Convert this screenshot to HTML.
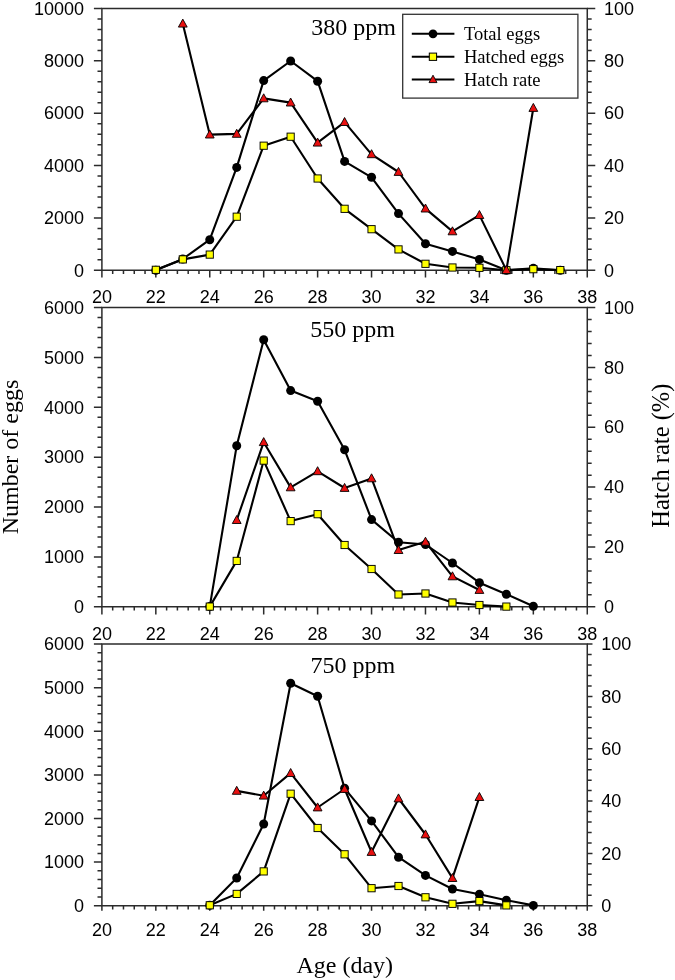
<!DOCTYPE html>
<html><head><meta charset="utf-8"><style>
html,body{margin:0;padding:0;background:#fff;}
svg{display:block;will-change:transform;}
.t{font-family:"Liberation Sans",sans-serif;font-size:18px;fill:#000;}
.s{font-family:"Liberation Serif",serif;font-size:24px;fill:#000;}
.l{font-family:"Liberation Serif",serif;font-size:18.55px;fill:#000;}
.a{font-family:"Liberation Serif",serif;font-size:24px;fill:#000;}
</style></head><body>
<svg width="675" height="980" viewBox="0 0 675 980">
<rect width="675" height="980" fill="#fff"/>
<path d="M101.9 8.5H587.27V270.3H101.9Z" fill="none" stroke="#2b2b2b" stroke-width="1.5"/>
<path d="M93.9 270.3H101.9M97.5 259.83H101.9M97.5 249.36H101.9M97.5 238.88H101.9M97.5 228.41H101.9M93.9 217.94H101.9M97.5 207.47H101.9M97.5 197H101.9M97.5 186.52H101.9M97.5 176.05H101.9M93.9 165.58H101.9M97.5 155.11H101.9M97.5 144.64H101.9M97.5 134.16H101.9M97.5 123.69H101.9M93.9 113.22H101.9M97.5 102.75H101.9M97.5 92.28H101.9M97.5 81.8H101.9M97.5 71.33H101.9M93.9 60.86H101.9M97.5 50.39H101.9M97.5 39.92H101.9M97.5 29.44H101.9M97.5 18.97H101.9M93.9 8.5H101.9" stroke="#2b2b2b" stroke-width="1.5"/>
<path d="M587.27 270.3H595.27M587.27 259.83H591.67M587.27 249.36H591.67M587.27 238.88H591.67M587.27 228.41H591.67M587.27 217.94H595.27M587.27 207.47H591.67M587.27 197H591.67M587.27 186.52H591.67M587.27 176.05H591.67M587.27 165.58H595.27M587.27 155.11H591.67M587.27 144.64H591.67M587.27 134.16H591.67M587.27 123.69H591.67M587.27 113.22H595.27M587.27 102.75H591.67M587.27 92.28H591.67M587.27 81.8H591.67M587.27 71.33H591.67M587.27 60.86H595.27M587.27 50.39H591.67M587.27 39.92H591.67M587.27 29.44H591.67M587.27 18.97H591.67M587.27 8.5H595.27" stroke="#2b2b2b" stroke-width="1.5"/>
<path d="M101.9 270.3V277.5M112.69 270.3V274.1M123.47 270.3V274.1M134.26 270.3V274.1M145.04 270.3V274.1M155.83 270.3V277.5M166.62 270.3V274.1M177.4 270.3V274.1M188.19 270.3V274.1M198.97 270.3V274.1M209.76 270.3V277.5M220.55 270.3V274.1M231.33 270.3V274.1M242.12 270.3V274.1M252.9 270.3V274.1M263.69 270.3V277.5M274.48 270.3V274.1M285.26 270.3V274.1M296.05 270.3V274.1M306.83 270.3V274.1M317.62 270.3V277.5M328.41 270.3V274.1M339.19 270.3V274.1M349.98 270.3V274.1M360.76 270.3V274.1M371.55 270.3V277.5M382.34 270.3V274.1M393.12 270.3V274.1M403.91 270.3V274.1M414.69 270.3V274.1M425.48 270.3V277.5M436.27 270.3V274.1M447.05 270.3V274.1M457.84 270.3V274.1M468.62 270.3V274.1M479.41 270.3V277.5M490.2 270.3V274.1M500.98 270.3V274.1M511.77 270.3V274.1M522.55 270.3V274.1M533.34 270.3V277.5M544.13 270.3V274.1M554.91 270.3V274.1M565.7 270.3V274.1M576.48 270.3V274.1M587.27 270.3V277.5" stroke="#2b2b2b" stroke-width="1.5"/>
<text x="84" y="276.5" text-anchor="end" class="t">0</text>
<text x="84" y="224.14" text-anchor="end" class="t">2000</text>
<text x="84" y="171.78" text-anchor="end" class="t">4000</text>
<text x="84" y="119.42" text-anchor="end" class="t">6000</text>
<text x="84" y="67.06" text-anchor="end" class="t">8000</text>
<text x="84" y="14.7" text-anchor="end" class="t">10000</text>
<text x="604" y="276.5" class="t">0</text>
<text x="604" y="224.14" class="t">20</text>
<text x="604" y="171.78" class="t">40</text>
<text x="604" y="119.42" class="t">60</text>
<text x="604" y="67.06" class="t">80</text>
<text x="604" y="14.7" class="t">100</text>
<text x="101.9" y="303.3" text-anchor="middle" class="t">20</text>
<text x="155.83" y="303.3" text-anchor="middle" class="t">22</text>
<text x="209.76" y="303.3" text-anchor="middle" class="t">24</text>
<text x="263.69" y="303.3" text-anchor="middle" class="t">26</text>
<text x="317.62" y="303.3" text-anchor="middle" class="t">28</text>
<text x="371.55" y="303.3" text-anchor="middle" class="t">30</text>
<text x="425.48" y="303.3" text-anchor="middle" class="t">32</text>
<text x="479.41" y="303.3" text-anchor="middle" class="t">34</text>
<text x="533.34" y="303.3" text-anchor="middle" class="t">36</text>
<text x="587.27" y="303.3" text-anchor="middle" class="t">38</text>
<text x="311.3" y="34.5" class="s">380 ppm</text>
<polyline points="155.83,270.3 182.8,259 209.76,239.7 236.72,167.4 263.69,80.6 290.65,61 317.62,81.2 344.59,161.4 371.55,177.3 398.51,213.6 425.48,243.7 452.45,251.4 479.41,259.5 506.38,270.2 533.34,268.3 560.3,270.3" fill="none" stroke="#000" stroke-width="2.1" stroke-linejoin="round"/>
<circle cx="155.83" cy="270.3" r="4.5" fill="#000"/>
<circle cx="182.8" cy="259" r="4.5" fill="#000"/>
<circle cx="209.76" cy="239.7" r="4.5" fill="#000"/>
<circle cx="236.72" cy="167.4" r="4.5" fill="#000"/>
<circle cx="263.69" cy="80.6" r="4.5" fill="#000"/>
<circle cx="290.65" cy="61" r="4.5" fill="#000"/>
<circle cx="317.62" cy="81.2" r="4.5" fill="#000"/>
<circle cx="344.59" cy="161.4" r="4.5" fill="#000"/>
<circle cx="371.55" cy="177.3" r="4.5" fill="#000"/>
<circle cx="398.51" cy="213.6" r="4.5" fill="#000"/>
<circle cx="425.48" cy="243.7" r="4.5" fill="#000"/>
<circle cx="452.45" cy="251.4" r="4.5" fill="#000"/>
<circle cx="479.41" cy="259.5" r="4.5" fill="#000"/>
<circle cx="506.38" cy="270.2" r="4.5" fill="#000"/>
<circle cx="533.34" cy="268.3" r="4.5" fill="#000"/>
<circle cx="560.3" cy="270.3" r="4.5" fill="#000"/>
<polyline points="155.83,269.8 182.8,259.4 209.76,254.6 236.72,216.7 263.69,145.7 290.65,136.7 317.62,178.5 344.59,208.8 371.55,229.2 398.51,249.4 425.48,263.8 452.45,267.5 479.41,267.8 506.38,270.2 533.34,269.2 560.3,270.1" fill="none" stroke="#000" stroke-width="2.1" stroke-linejoin="round"/>
<rect x="152.23" y="266.2" width="7.2" height="7.2" fill="#ffff00" stroke="#000" stroke-width="0.95"/>
<rect x="179.2" y="255.8" width="7.2" height="7.2" fill="#ffff00" stroke="#000" stroke-width="0.95"/>
<rect x="206.16" y="251" width="7.2" height="7.2" fill="#ffff00" stroke="#000" stroke-width="0.95"/>
<rect x="233.12" y="213.1" width="7.2" height="7.2" fill="#ffff00" stroke="#000" stroke-width="0.95"/>
<rect x="260.09" y="142.1" width="7.2" height="7.2" fill="#ffff00" stroke="#000" stroke-width="0.95"/>
<rect x="287.05" y="133.1" width="7.2" height="7.2" fill="#ffff00" stroke="#000" stroke-width="0.95"/>
<rect x="314.02" y="174.9" width="7.2" height="7.2" fill="#ffff00" stroke="#000" stroke-width="0.95"/>
<rect x="340.99" y="205.2" width="7.2" height="7.2" fill="#ffff00" stroke="#000" stroke-width="0.95"/>
<rect x="367.95" y="225.6" width="7.2" height="7.2" fill="#ffff00" stroke="#000" stroke-width="0.95"/>
<rect x="394.91" y="245.8" width="7.2" height="7.2" fill="#ffff00" stroke="#000" stroke-width="0.95"/>
<rect x="421.88" y="260.2" width="7.2" height="7.2" fill="#ffff00" stroke="#000" stroke-width="0.95"/>
<rect x="448.85" y="263.9" width="7.2" height="7.2" fill="#ffff00" stroke="#000" stroke-width="0.95"/>
<rect x="475.81" y="264.2" width="7.2" height="7.2" fill="#ffff00" stroke="#000" stroke-width="0.95"/>
<rect x="502.77" y="266.6" width="7.2" height="7.2" fill="#ffff00" stroke="#000" stroke-width="0.95"/>
<rect x="529.74" y="265.6" width="7.2" height="7.2" fill="#ffff00" stroke="#000" stroke-width="0.95"/>
<rect x="556.7" y="266.5" width="7.2" height="7.2" fill="#ffff00" stroke="#000" stroke-width="0.95"/>
<polyline points="182.8,23.7 209.76,134.6 236.72,133.9 263.69,98.4 290.65,102.6 317.62,142.7 344.59,122.1 371.55,154.3 398.51,172 425.48,208.6 452.45,231.4 479.41,215.1 506.38,270.1 533.34,108" fill="none" stroke="#000" stroke-width="2.1" stroke-linejoin="round"/>
<path d="M182.8 19.1L187.2 27.1H178.4Z" fill="#e81010" stroke="#000" stroke-width="0.9" stroke-linejoin="miter"/>
<path d="M209.76 130L214.16 138H205.36Z" fill="#e81010" stroke="#000" stroke-width="0.9" stroke-linejoin="miter"/>
<path d="M236.72 129.3L241.12 137.3H232.32Z" fill="#e81010" stroke="#000" stroke-width="0.9" stroke-linejoin="miter"/>
<path d="M263.69 93.8L268.09 101.8H259.29Z" fill="#e81010" stroke="#000" stroke-width="0.9" stroke-linejoin="miter"/>
<path d="M290.65 98L295.05 106H286.25Z" fill="#e81010" stroke="#000" stroke-width="0.9" stroke-linejoin="miter"/>
<path d="M317.62 138.1L322.02 146.1H313.22Z" fill="#e81010" stroke="#000" stroke-width="0.9" stroke-linejoin="miter"/>
<path d="M344.59 117.5L348.99 125.5H340.19Z" fill="#e81010" stroke="#000" stroke-width="0.9" stroke-linejoin="miter"/>
<path d="M371.55 149.7L375.95 157.7H367.15Z" fill="#e81010" stroke="#000" stroke-width="0.9" stroke-linejoin="miter"/>
<path d="M398.51 167.4L402.91 175.4H394.12Z" fill="#e81010" stroke="#000" stroke-width="0.9" stroke-linejoin="miter"/>
<path d="M425.48 204L429.88 212H421.08Z" fill="#e81010" stroke="#000" stroke-width="0.9" stroke-linejoin="miter"/>
<path d="M452.45 226.8L456.85 234.8H448.05Z" fill="#e81010" stroke="#000" stroke-width="0.9" stroke-linejoin="miter"/>
<path d="M479.41 210.5L483.81 218.5H475.01Z" fill="#e81010" stroke="#000" stroke-width="0.9" stroke-linejoin="miter"/>
<path d="M506.38 265.5L510.77 273.5H501.98Z" fill="#e81010" stroke="#000" stroke-width="0.9" stroke-linejoin="miter"/>
<path d="M533.34 103.4L537.74 111.4H528.94Z" fill="#e81010" stroke="#000" stroke-width="0.9" stroke-linejoin="miter"/>
<rect x="402.7" y="14.3" width="175.2" height="83.8" fill="#fff" stroke="#333" stroke-width="1.3"/>
<path d="M411.8 33.8H454.4" stroke="#000" stroke-width="2"/>
<circle cx="433" cy="33.8" r="4.4" fill="#000"/>
<text x="463.9" y="40" class="l">Total eggs</text>
<path d="M411.8 56.7H454.4" stroke="#000" stroke-width="2"/>
<rect x="429.3" y="53.1" width="7.3" height="7.3" fill="#ffff00" stroke="#000" stroke-width="1"/>
<text x="463.9" y="62.9" class="l">Hatched eggs</text>
<path d="M411.8 79.4H454.4" stroke="#000" stroke-width="2"/>
<path d="M433 75.2L437 82.6H429Z" fill="#e81010" stroke="#000" stroke-width="0.9"/>
<text x="463.9" y="85.6" class="l">Hatch rate</text>
<path d="M101.9 307.6H587.27V606.8H101.9Z" fill="none" stroke="#2b2b2b" stroke-width="1.5"/>
<path d="M93.9 606.8H101.9M97.5 596.83H101.9M97.5 586.85H101.9M97.5 576.88H101.9M97.5 566.91H101.9M93.9 556.93H101.9M97.5 546.96H101.9M97.5 536.99H101.9M97.5 527.01H101.9M97.5 517.04H101.9M93.9 507.07H101.9M97.5 497.09H101.9M97.5 487.12H101.9M97.5 477.15H101.9M97.5 467.17H101.9M93.9 457.2H101.9M97.5 447.23H101.9M97.5 437.25H101.9M97.5 427.28H101.9M97.5 417.31H101.9M93.9 407.33H101.9M97.5 397.36H101.9M97.5 387.39H101.9M97.5 377.41H101.9M97.5 367.44H101.9M93.9 357.47H101.9M97.5 347.49H101.9M97.5 337.52H101.9M97.5 327.55H101.9M97.5 317.57H101.9M93.9 307.6H101.9" stroke="#2b2b2b" stroke-width="1.5"/>
<path d="M587.27 606.8H595.27M587.27 594.83H591.67M587.27 582.86H591.67M587.27 570.9H591.67M587.27 558.93H591.67M587.27 546.96H595.27M587.27 534.99H591.67M587.27 523.02H591.67M587.27 511.06H591.67M587.27 499.09H591.67M587.27 487.12H595.27M587.27 475.15H591.67M587.27 463.18H591.67M587.27 451.22H591.67M587.27 439.25H591.67M587.27 427.28H595.27M587.27 415.31H591.67M587.27 403.34H591.67M587.27 391.38H591.67M587.27 379.41H591.67M587.27 367.44H595.27M587.27 355.47H591.67M587.27 343.5H591.67M587.27 331.54H591.67M587.27 319.57H591.67M587.27 307.6H595.27" stroke="#2b2b2b" stroke-width="1.5"/>
<path d="M101.9 606.8V614.4M112.69 606.8V610.6M123.47 606.8V610.6M134.26 606.8V610.6M145.04 606.8V610.6M155.83 606.8V614.4M166.62 606.8V610.6M177.4 606.8V610.6M188.19 606.8V610.6M198.97 606.8V610.6M209.76 606.8V614.4M220.55 606.8V610.6M231.33 606.8V610.6M242.12 606.8V610.6M252.9 606.8V610.6M263.69 606.8V614.4M274.48 606.8V610.6M285.26 606.8V610.6M296.05 606.8V610.6M306.83 606.8V610.6M317.62 606.8V614.4M328.41 606.8V610.6M339.19 606.8V610.6M349.98 606.8V610.6M360.76 606.8V610.6M371.55 606.8V614.4M382.34 606.8V610.6M393.12 606.8V610.6M403.91 606.8V610.6M414.69 606.8V610.6M425.48 606.8V614.4M436.27 606.8V610.6M447.05 606.8V610.6M457.84 606.8V610.6M468.62 606.8V610.6M479.41 606.8V614.4M490.2 606.8V610.6M500.98 606.8V610.6M511.77 606.8V610.6M522.55 606.8V610.6M533.34 606.8V614.4M544.13 606.8V610.6M554.91 606.8V610.6M565.7 606.8V610.6M576.48 606.8V610.6M587.27 606.8V614.4" stroke="#2b2b2b" stroke-width="1.5"/>
<text x="84" y="613" text-anchor="end" class="t">0</text>
<text x="84" y="563.13" text-anchor="end" class="t">1000</text>
<text x="84" y="513.27" text-anchor="end" class="t">2000</text>
<text x="84" y="463.4" text-anchor="end" class="t">3000</text>
<text x="84" y="413.53" text-anchor="end" class="t">4000</text>
<text x="84" y="363.67" text-anchor="end" class="t">5000</text>
<text x="84" y="313.8" text-anchor="end" class="t">6000</text>
<text x="604" y="613" class="t">0</text>
<text x="604" y="553.16" class="t">20</text>
<text x="604" y="493.32" class="t">40</text>
<text x="604" y="433.48" class="t">60</text>
<text x="604" y="373.64" class="t">80</text>
<text x="604" y="313.8" class="t">100</text>
<text x="101.9" y="639.8" text-anchor="middle" class="t">20</text>
<text x="155.83" y="639.8" text-anchor="middle" class="t">22</text>
<text x="209.76" y="639.8" text-anchor="middle" class="t">24</text>
<text x="263.69" y="639.8" text-anchor="middle" class="t">26</text>
<text x="317.62" y="639.8" text-anchor="middle" class="t">28</text>
<text x="371.55" y="639.8" text-anchor="middle" class="t">30</text>
<text x="425.48" y="639.8" text-anchor="middle" class="t">32</text>
<text x="479.41" y="639.8" text-anchor="middle" class="t">34</text>
<text x="533.34" y="639.8" text-anchor="middle" class="t">36</text>
<text x="587.27" y="639.8" text-anchor="middle" class="t">38</text>
<text x="310.3" y="336.7" class="s">550 ppm</text>
<polyline points="209.76,606.6 236.72,445.7 263.69,339.7 290.65,390.6 317.62,401.3 344.59,449.8 371.55,519.6 398.51,542.3 425.48,544.5 452.45,563 479.41,582.7 506.38,594.2 533.34,606.2" fill="none" stroke="#000" stroke-width="2.1" stroke-linejoin="round"/>
<circle cx="209.76" cy="606.6" r="4.5" fill="#000"/>
<circle cx="236.72" cy="445.7" r="4.5" fill="#000"/>
<circle cx="263.69" cy="339.7" r="4.5" fill="#000"/>
<circle cx="290.65" cy="390.6" r="4.5" fill="#000"/>
<circle cx="317.62" cy="401.3" r="4.5" fill="#000"/>
<circle cx="344.59" cy="449.8" r="4.5" fill="#000"/>
<circle cx="371.55" cy="519.6" r="4.5" fill="#000"/>
<circle cx="398.51" cy="542.3" r="4.5" fill="#000"/>
<circle cx="425.48" cy="544.5" r="4.5" fill="#000"/>
<circle cx="452.45" cy="563" r="4.5" fill="#000"/>
<circle cx="479.41" cy="582.7" r="4.5" fill="#000"/>
<circle cx="506.38" cy="594.2" r="4.5" fill="#000"/>
<circle cx="533.34" cy="606.2" r="4.5" fill="#000"/>
<polyline points="209.76,606.6 236.72,560.9 263.69,460.6 290.65,521.1 317.62,514.2 344.59,545 371.55,569 398.51,594.5 425.48,593.5 452.45,602.5 479.41,605 506.38,606.6" fill="none" stroke="#000" stroke-width="2.1" stroke-linejoin="round"/>
<rect x="206.16" y="603" width="7.2" height="7.2" fill="#ffff00" stroke="#000" stroke-width="0.95"/>
<rect x="233.12" y="557.3" width="7.2" height="7.2" fill="#ffff00" stroke="#000" stroke-width="0.95"/>
<rect x="260.09" y="457" width="7.2" height="7.2" fill="#ffff00" stroke="#000" stroke-width="0.95"/>
<rect x="287.05" y="517.5" width="7.2" height="7.2" fill="#ffff00" stroke="#000" stroke-width="0.95"/>
<rect x="314.02" y="510.6" width="7.2" height="7.2" fill="#ffff00" stroke="#000" stroke-width="0.95"/>
<rect x="340.99" y="541.4" width="7.2" height="7.2" fill="#ffff00" stroke="#000" stroke-width="0.95"/>
<rect x="367.95" y="565.4" width="7.2" height="7.2" fill="#ffff00" stroke="#000" stroke-width="0.95"/>
<rect x="394.91" y="590.9" width="7.2" height="7.2" fill="#ffff00" stroke="#000" stroke-width="0.95"/>
<rect x="421.88" y="589.9" width="7.2" height="7.2" fill="#ffff00" stroke="#000" stroke-width="0.95"/>
<rect x="448.85" y="598.9" width="7.2" height="7.2" fill="#ffff00" stroke="#000" stroke-width="0.95"/>
<rect x="475.81" y="601.4" width="7.2" height="7.2" fill="#ffff00" stroke="#000" stroke-width="0.95"/>
<rect x="502.77" y="603" width="7.2" height="7.2" fill="#ffff00" stroke="#000" stroke-width="0.95"/>
<polyline points="236.72,520.1 263.69,442.2 290.65,487.4 317.62,471.3 344.59,488 371.55,478.4 398.51,550.1 425.48,541.8 452.45,576.4 479.41,590" fill="none" stroke="#000" stroke-width="2.1" stroke-linejoin="round"/>
<path d="M236.72 515.5L241.12 523.5H232.32Z" fill="#e81010" stroke="#000" stroke-width="0.9" stroke-linejoin="miter"/>
<path d="M263.69 437.6L268.09 445.6H259.29Z" fill="#e81010" stroke="#000" stroke-width="0.9" stroke-linejoin="miter"/>
<path d="M290.65 482.8L295.05 490.8H286.25Z" fill="#e81010" stroke="#000" stroke-width="0.9" stroke-linejoin="miter"/>
<path d="M317.62 466.7L322.02 474.7H313.22Z" fill="#e81010" stroke="#000" stroke-width="0.9" stroke-linejoin="miter"/>
<path d="M344.59 483.4L348.99 491.4H340.19Z" fill="#e81010" stroke="#000" stroke-width="0.9" stroke-linejoin="miter"/>
<path d="M371.55 473.8L375.95 481.8H367.15Z" fill="#e81010" stroke="#000" stroke-width="0.9" stroke-linejoin="miter"/>
<path d="M398.51 545.5L402.91 553.5H394.12Z" fill="#e81010" stroke="#000" stroke-width="0.9" stroke-linejoin="miter"/>
<path d="M425.48 537.2L429.88 545.2H421.08Z" fill="#e81010" stroke="#000" stroke-width="0.9" stroke-linejoin="miter"/>
<path d="M452.45 571.8L456.85 579.8H448.05Z" fill="#e81010" stroke="#000" stroke-width="0.9" stroke-linejoin="miter"/>
<path d="M479.41 585.4L483.81 593.4H475.01Z" fill="#e81010" stroke="#000" stroke-width="0.9" stroke-linejoin="miter"/>
<path d="M101.9 644.1H587.27V905.7H101.9Z" fill="none" stroke="#2b2b2b" stroke-width="1.5"/>
<path d="M93.9 905.7H101.9M97.5 896.98H101.9M97.5 888.26H101.9M97.5 879.54H101.9M97.5 870.82H101.9M93.9 862.1H101.9M97.5 853.38H101.9M97.5 844.66H101.9M97.5 835.94H101.9M97.5 827.22H101.9M93.9 818.5H101.9M97.5 809.78H101.9M97.5 801.06H101.9M97.5 792.34H101.9M97.5 783.62H101.9M93.9 774.9H101.9M97.5 766.18H101.9M97.5 757.46H101.9M97.5 748.74H101.9M97.5 740.02H101.9M93.9 731.3H101.9M97.5 722.58H101.9M97.5 713.86H101.9M97.5 705.14H101.9M97.5 696.42H101.9M93.9 687.7H101.9M97.5 678.98H101.9M97.5 670.26H101.9M97.5 661.54H101.9M97.5 652.82H101.9M93.9 644.1H101.9" stroke="#2b2b2b" stroke-width="1.5"/>
<path d="M587.27 905.7H592.47M587.27 895.24H591.67M587.27 884.77H591.67M587.27 874.31H591.67M587.27 863.84H591.67M587.27 853.38H592.47M587.27 842.92H591.67M587.27 832.45H591.67M587.27 821.99H591.67M587.27 811.52H591.67M587.27 801.06H592.47M587.27 790.6H591.67M587.27 780.13H591.67M587.27 769.67H591.67M587.27 759.2H591.67M587.27 748.74H592.47M587.27 738.28H591.67M587.27 727.81H591.67M587.27 717.35H591.67M587.27 706.88H591.67M587.27 696.42H592.47M587.27 685.96H591.67M587.27 675.49H591.67M587.27 665.03H591.67M587.27 654.56H591.67M587.27 644.1H592.47" stroke="#2b2b2b" stroke-width="1.5"/>
<path d="M101.9 905.7V910.7M112.69 905.7V909.5M123.47 905.7V909.5M134.26 905.7V909.5M145.04 905.7V909.5M155.83 905.7V910.7M166.62 905.7V909.5M177.4 905.7V909.5M188.19 905.7V909.5M198.97 905.7V909.5M209.76 905.7V910.7M220.55 905.7V909.5M231.33 905.7V909.5M242.12 905.7V909.5M252.9 905.7V909.5M263.69 905.7V910.7M274.48 905.7V909.5M285.26 905.7V909.5M296.05 905.7V909.5M306.83 905.7V909.5M317.62 905.7V910.7M328.41 905.7V909.5M339.19 905.7V909.5M349.98 905.7V909.5M360.76 905.7V909.5M371.55 905.7V910.7M382.34 905.7V909.5M393.12 905.7V909.5M403.91 905.7V909.5M414.69 905.7V909.5M425.48 905.7V910.7M436.27 905.7V909.5M447.05 905.7V909.5M457.84 905.7V909.5M468.62 905.7V909.5M479.41 905.7V910.7M490.2 905.7V909.5M500.98 905.7V909.5M511.77 905.7V909.5M522.55 905.7V909.5M533.34 905.7V910.7M544.13 905.7V909.5M554.91 905.7V909.5M565.7 905.7V909.5M576.48 905.7V909.5M587.27 905.7V910.7" stroke="#2b2b2b" stroke-width="1.5"/>
<text x="84" y="911.9" text-anchor="end" class="t">0</text>
<text x="84" y="868.3" text-anchor="end" class="t">1000</text>
<text x="84" y="824.7" text-anchor="end" class="t">2000</text>
<text x="84" y="781.1" text-anchor="end" class="t">3000</text>
<text x="84" y="737.5" text-anchor="end" class="t">4000</text>
<text x="84" y="693.9" text-anchor="end" class="t">5000</text>
<text x="84" y="650.3" text-anchor="end" class="t">6000</text>
<text x="601.2" y="911.9" class="t">0</text>
<text x="601.2" y="859.58" class="t">20</text>
<text x="601.2" y="807.26" class="t">40</text>
<text x="601.2" y="754.94" class="t">60</text>
<text x="601.2" y="702.62" class="t">80</text>
<text x="601.2" y="650.3" class="t">100</text>
<text x="101.9" y="936.3" text-anchor="middle" class="t">20</text>
<text x="155.83" y="936.3" text-anchor="middle" class="t">22</text>
<text x="209.76" y="936.3" text-anchor="middle" class="t">24</text>
<text x="263.69" y="936.3" text-anchor="middle" class="t">26</text>
<text x="317.62" y="936.3" text-anchor="middle" class="t">28</text>
<text x="371.55" y="936.3" text-anchor="middle" class="t">30</text>
<text x="425.48" y="936.3" text-anchor="middle" class="t">32</text>
<text x="479.41" y="936.3" text-anchor="middle" class="t">34</text>
<text x="533.34" y="936.3" text-anchor="middle" class="t">36</text>
<text x="587.27" y="936.3" text-anchor="middle" class="t">38</text>
<text x="310.4" y="673.2" class="s">750 ppm</text>
<polyline points="209.76,905.3 236.72,878 263.69,824 290.65,683.2 317.62,696.3 344.59,788.3 371.55,820.9 398.51,857.2 425.48,875.4 452.45,889 479.41,894.3 506.38,900.2 533.34,905.4" fill="none" stroke="#000" stroke-width="2.1" stroke-linejoin="round"/>
<circle cx="209.76" cy="905.3" r="4.5" fill="#000"/>
<circle cx="236.72" cy="878" r="4.5" fill="#000"/>
<circle cx="263.69" cy="824" r="4.5" fill="#000"/>
<circle cx="290.65" cy="683.2" r="4.5" fill="#000"/>
<circle cx="317.62" cy="696.3" r="4.5" fill="#000"/>
<circle cx="344.59" cy="788.3" r="4.5" fill="#000"/>
<circle cx="371.55" cy="820.9" r="4.5" fill="#000"/>
<circle cx="398.51" cy="857.2" r="4.5" fill="#000"/>
<circle cx="425.48" cy="875.4" r="4.5" fill="#000"/>
<circle cx="452.45" cy="889" r="4.5" fill="#000"/>
<circle cx="479.41" cy="894.3" r="4.5" fill="#000"/>
<circle cx="506.38" cy="900.2" r="4.5" fill="#000"/>
<circle cx="533.34" cy="905.4" r="4.5" fill="#000"/>
<polyline points="209.76,905.3 236.72,893.9 263.69,871.4 290.65,793.7 317.62,828 344.59,854.3 371.55,888.2 398.51,886 425.48,897.3 452.45,903.8 479.41,901.1 506.38,905.4" fill="none" stroke="#000" stroke-width="2.1" stroke-linejoin="round"/>
<rect x="206.16" y="901.7" width="7.2" height="7.2" fill="#ffff00" stroke="#000" stroke-width="0.95"/>
<rect x="233.12" y="890.3" width="7.2" height="7.2" fill="#ffff00" stroke="#000" stroke-width="0.95"/>
<rect x="260.09" y="867.8" width="7.2" height="7.2" fill="#ffff00" stroke="#000" stroke-width="0.95"/>
<rect x="287.05" y="790.1" width="7.2" height="7.2" fill="#ffff00" stroke="#000" stroke-width="0.95"/>
<rect x="314.02" y="824.4" width="7.2" height="7.2" fill="#ffff00" stroke="#000" stroke-width="0.95"/>
<rect x="340.99" y="850.7" width="7.2" height="7.2" fill="#ffff00" stroke="#000" stroke-width="0.95"/>
<rect x="367.95" y="884.6" width="7.2" height="7.2" fill="#ffff00" stroke="#000" stroke-width="0.95"/>
<rect x="394.91" y="882.4" width="7.2" height="7.2" fill="#ffff00" stroke="#000" stroke-width="0.95"/>
<rect x="421.88" y="893.7" width="7.2" height="7.2" fill="#ffff00" stroke="#000" stroke-width="0.95"/>
<rect x="448.85" y="900.2" width="7.2" height="7.2" fill="#ffff00" stroke="#000" stroke-width="0.95"/>
<rect x="475.81" y="897.5" width="7.2" height="7.2" fill="#ffff00" stroke="#000" stroke-width="0.95"/>
<rect x="502.77" y="901.8" width="7.2" height="7.2" fill="#ffff00" stroke="#000" stroke-width="0.95"/>
<polyline points="236.72,790.9 263.69,795.7 290.65,773.1 317.62,807.5 344.59,789 371.55,852 398.51,798.5 425.48,834.5 452.45,878.1 479.41,797.1" fill="none" stroke="#000" stroke-width="2.1" stroke-linejoin="round"/>
<path d="M236.72 786.3L241.12 794.3H232.32Z" fill="#e81010" stroke="#000" stroke-width="0.9" stroke-linejoin="miter"/>
<path d="M263.69 791.1L268.09 799.1H259.29Z" fill="#e81010" stroke="#000" stroke-width="0.9" stroke-linejoin="miter"/>
<path d="M290.65 768.5L295.05 776.5H286.25Z" fill="#e81010" stroke="#000" stroke-width="0.9" stroke-linejoin="miter"/>
<path d="M317.62 802.9L322.02 810.9H313.22Z" fill="#e81010" stroke="#000" stroke-width="0.9" stroke-linejoin="miter"/>
<path d="M344.59 784.4L348.99 792.4H340.19Z" fill="#e81010" stroke="#000" stroke-width="0.9" stroke-linejoin="miter"/>
<path d="M371.55 847.4L375.95 855.4H367.15Z" fill="#e81010" stroke="#000" stroke-width="0.9" stroke-linejoin="miter"/>
<path d="M398.51 793.9L402.91 801.9H394.12Z" fill="#e81010" stroke="#000" stroke-width="0.9" stroke-linejoin="miter"/>
<path d="M425.48 829.9L429.88 837.9H421.08Z" fill="#e81010" stroke="#000" stroke-width="0.9" stroke-linejoin="miter"/>
<path d="M452.45 873.5L456.85 881.5H448.05Z" fill="#e81010" stroke="#000" stroke-width="0.9" stroke-linejoin="miter"/>
<path d="M479.41 792.5L483.81 800.5H475.01Z" fill="#e81010" stroke="#000" stroke-width="0.9" stroke-linejoin="miter"/>
<text transform="translate(17.6 457) rotate(-90)" text-anchor="middle" class="a">Number of eggs</text>
<text transform="translate(668.9 455.7) rotate(-90)" text-anchor="middle" class="a" style="font-size:24.5px">Hatch rate (%)</text>
<text x="344.8" y="973.3" text-anchor="middle" class="a">Age (day)</text>
</svg>
</body></html>
